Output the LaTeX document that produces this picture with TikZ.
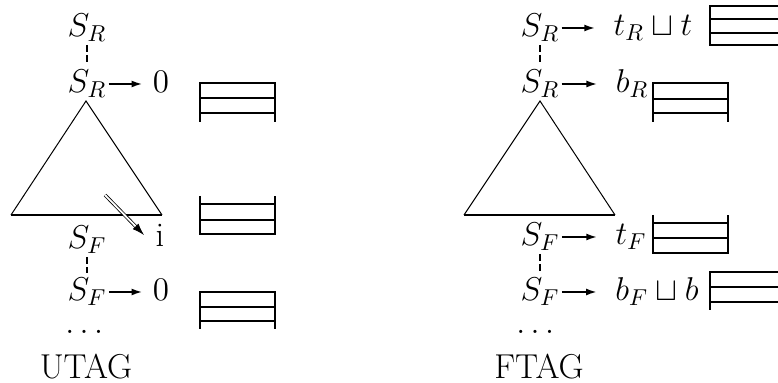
\RequirePackage{fix-cm}
\documentclass[tikz,border=0pt]{standalone}
\usepackage{amsmath,amssymb}
\usetikzlibrary{arrows.meta}
\DeclareMathSizes{17.28}{16.5}{11.5}{8}
\tikzset{
  lab/.style={inner sep=1pt, font=\LARGE},
  push/.style={line width=1pt, -{Latex[length=5.5pt,width=3.5pt]}},
  same/.style={line width=1.3pt, dash pattern=on 3.5pt off 1.5pt, shorten <=8.5pt, shorten >=9.5pt},
  stack/.style={line width=1.4pt},
  slot/.style={line width=1pt},
  tri/.style={line width=0.5pt},
}
\begin{document}
\begin{tikzpicture}[x=0.5pt,y=-0.5pt]
\useasboundingbox (0,0) rectangle (778,383);

% UTAG
\node[lab] (sr1) at (87,28) {$S_R$};
\node[lab] (sr2) at (87,84) {$S_R$};
\node[lab] (zr) at (161,82) {$0$};
\node[lab] (sf1) at (87,240) {$S_F$};
\node[lab] (sf2) at (87,292) {$S_F$};
\node[lab] (zf) at (161,290) {$0$};
\node[lab] (ii) at (160,235) {i};
\node[lab] (dotsl) at (87,332) {$\dots$};
\node[lab] (utag) at (86,367) {UTAG};

\draw[same] (sr1.center) -- (sr2.center);
\draw[same] (sf1.center) -- (sf2.center);
\draw[push] (sr2.east) -- ([xshift=-4pt]sr2.east -| zr.west);
\draw[push] (sf2.east) -- ([xshift=-4pt]sf2.east -| zf.west);

\draw[tri] (11,215) -- (86,101) -- (162,215);
\draw[line width=1pt] (11,215) -- (162,215);

\coordinate (down1) at (105,195);
\coordinate (down2) at (144,235);
\draw[double, double distance=0.9pt, line width=0.4pt, -{Latex[length=6pt,width=4pt]}] (down1) -- (down2); % goes down to leaf

\draw[stack] (200,122) -- (200,83) -- (275,83) -- (275,122);
\draw[slot] (200,98) -- (275,98);
\draw[stack] (200,113) -- (275,113);

\draw[stack] (200,196) -- (200,234) -- (275,234) -- (275,196);
\draw[stack] (200,204) -- (275,204);
\draw[slot] (200,220) -- (275,220);

\draw[stack] (200,329) -- (200,292) -- (275,292) -- (275,329);
\draw[slot] (200,307) -- (275,307);
\draw[stack] (200,321) -- (275,321);

% FTAG
\node[lab] (fr1) at (540,28) {$S_R$};
\node[lab] (tr) at (653,28) {$t_R\sqcup t$};
\node[lab] (fr2) at (540,84) {$S_R$};
\node[lab] (br) at (632,84) {$b_R$};
\node[lab] (ff1) at (540,237) {$S_F$};
\node[lab] (tf) at (631,237) {$t_F$};
\node[lab] (ff2) at (540,292) {$S_F$};
\node[lab] (bf) at (657,292) {$b_F\sqcup b$};
\node[lab] (dotsr) at (538,332) {$\dots$};
\node[lab] (ftag) at (539,367) {FTAG};

\draw[same] (fr1.center) -- (fr2.center);
\draw[same] (ff1.center) -- (ff2.center);
\draw[push] (fr1.east) -- ([xshift=-8pt]fr1.east -| tr.west);
\draw[push] (fr2.east) -- ([xshift=-8pt]fr2.east -| br.west);
\draw[push] (ff1.east) -- ([xshift=-8pt]ff1.east -| tf.west);
\draw[push] (ff2.east) -- ([xshift=-8pt]ff2.east -| bf.west);

\draw[tri] (464,215) -- (540,101) -- (615,215);
\draw[line width=1pt] (464,215) -- (615,215);

\draw[stack] (778,6) -- (710,6) -- (710,45) -- (778,45);
\draw[stack] (710,19) -- (778,19);
\draw[slot] (710,33) -- (778,33);

\draw[stack] (653,122) -- (653,83) -- (728,83) -- (728,122);
\draw[slot] (653,99) -- (728,99);
\draw[stack] (653,113) -- (728,113);

\draw[stack] (653,215) -- (653,253) -- (728,253) -- (728,215);
\draw[stack] (653,223) -- (728,223);
\draw[slot] (653,238) -- (728,238);

\draw[stack] (778,272) -- (710,272) -- (710,310);
\draw[stack] (710,287) -- (778,287);
\draw[slot] (710,302) -- (778,302);
\end{tikzpicture}
\end{document}
